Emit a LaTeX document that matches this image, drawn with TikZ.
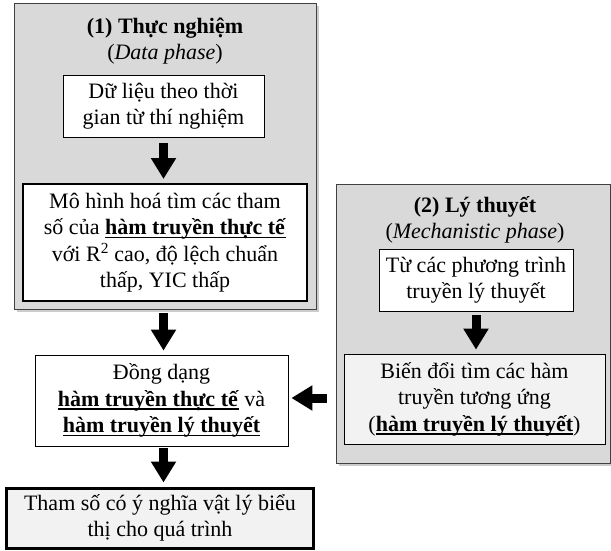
\documentclass[tikz,border=0pt]{standalone}
\usepackage{fontspec}
\setmainfont{Liberation Serif}
\usetikzlibrary{arrows.meta,shadows}
\definecolor{panelgray}{HTML}{D9D9D9}
\definecolor{boxgray}{HTML}{F2F2F2}
\definecolor{edgegray}{HTML}{404040}
\newcommand{\myul}[1]{\setbox0\hbox{#1}\rlap{\rule[-3.8pt]{\wd0}{1.5pt}}\box0\relax}
\begin{document}
\begin{tikzpicture}[x=1pt,y=-1pt,
  txt/.style={font=\fontsize{22}{26.5}\selectfont, align=center},
  panel/.style={draw=edgegray, line width=0.8pt, fill=panelgray, inner sep=0pt,
    drop shadow={shadow xshift=3pt, shadow yshift=-3pt, fill=black!40}},
  wbox/.style={txt, draw=black, line width=0.8pt, fill=white, inner sep=0pt},
  bigarrow/.style={line width=9pt, -{Triangle[length=21pt,width=24pt]}}]
\useasboundingbox (0,0) rectangle (611,551);

% panels
\node[panel, minimum width=302pt, minimum height=306pt] (lp) at (165,156) {};
\node[panel, minimum width=274pt, minimum height=279pt] (rp) at (473,323.5) {};

% titles
\node[txt] (lt) at (165,41) {\textbf{(1) Thực nghiệm}\\(\textit{Data phase})};
\node[txt] (rt) at (475,220) {\textbf{(2) Lý thuyết}\\(\textit{Mechanistic phase})};

% boxes
\node[wbox, minimum width=201pt, minimum height=62pt] (d) at (163.5,106)
  {Dữ liệu theo thời\\gian từ thí nghiệm};
\node[wbox, line width=2pt, minimum width=284pt, minimum height=117pt] (m) at (165,242.5)
  {Mô hình hoá tìm các tham\\số của \myul{\textbf{hàm truyền thực tế}}\\với R\textsuperscript{2} cao, độ lệch chuẩn\\thấp, YIC thấp};
\node[wbox, minimum width=194pt, minimum height=62pt] (tc) at (476,280)
  {Từ các phương trình\\truyền lý thuyết};
\node[wbox, fill=boxgray, minimum width=261pt, minimum height=90pt] (bd) at (474.5,399)
  {Biến đổi tìm các hàm\\truyền tương ứng\\(\myul{\textbf{hàm truyền lý thuyết}})};
\node[wbox, minimum width=253pt, minimum height=91pt] (dd) at (161.5,400.5)
  {Đồng dạng\\\myul{\textbf{hàm truyền thực tế}} và\\\myul{\textbf{hàm truyền lý thuyết}}};
\node[wbox, fill=boxgray, line width=3pt, minimum width=307pt, minimum height=60pt] (ts) at (160,518)
  {Tham số có ý nghĩa vật lý biểu\\thị cho quá trình};

% arrows
\draw[bigarrow] ([yshift=-6pt]d.south) -- ([yshift=4pt]d.south |- m.north);
\draw[bigarrow] ([yshift=-11pt]d.south |- m.south) -- ([yshift=4pt]d.south |- dd.north);
\draw[bigarrow] ([yshift=-2pt]d.south |- dd.south) -- ([yshift=4pt]d.south |- ts.north);
\draw[bigarrow] ([yshift=-4pt]tc.south) -- ([yshift=4pt]tc.south |- bd.north);
\draw[bigarrow] ([xshift=-17pt,yshift=1pt]bd.west) -- ([xshift=3pt,yshift=1pt]dd.east |- bd.west);
\end{tikzpicture}
\end{document}
